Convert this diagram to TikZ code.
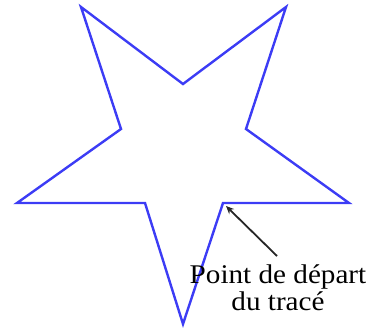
\documentclass[tikz,border=0pt]{standalone}
\usepackage{fontspec}
\setmainfont{Liberation Serif}
\usetikzlibrary{arrows.meta}
\definecolor{starblue}{RGB}{60,60,245}
\begin{document}
\begin{tikzpicture}[x=1pt,y=-1pt,
  starline/.style={draw=starblue,line width=2.4pt,line join=miter},
  pointer/.style={draw=black!85,line width=1.8pt,-{Stealth[length=8pt,width=7pt]}},
  lbl/.style={font=\fontsize{27}{27}\selectfont,align=center,inner sep=0pt,xscale=1.08}]
\useasboundingbox (0,0) rectangle (375,327);
\coordinate (a) at (81,7);
\coordinate (b) at (183,84);
\coordinate (c) at (286,7);
\coordinate (d) at (246,129);
\coordinate (e) at (349,203);
\coordinate (s) at (223,203);
\coordinate (f) at (183,324);
\coordinate (g) at (145,203);
\coordinate (h) at (17,203);
\coordinate (i) at (121,129);
\draw[starline] (s) -- (f) -- (g) -- (h) -- (i) -- (a) -- (b) -- (c) -- (d) -- (e) -- cycle;
\node[lbl,anchor=base] (label) at (278,310) {Point de départ\\du tracé};
\coordinate (tail) at (277,256);
\draw[pointer] (tail) -- ([shift={(3pt,-3pt)}]s);
\end{tikzpicture}
\end{document}
